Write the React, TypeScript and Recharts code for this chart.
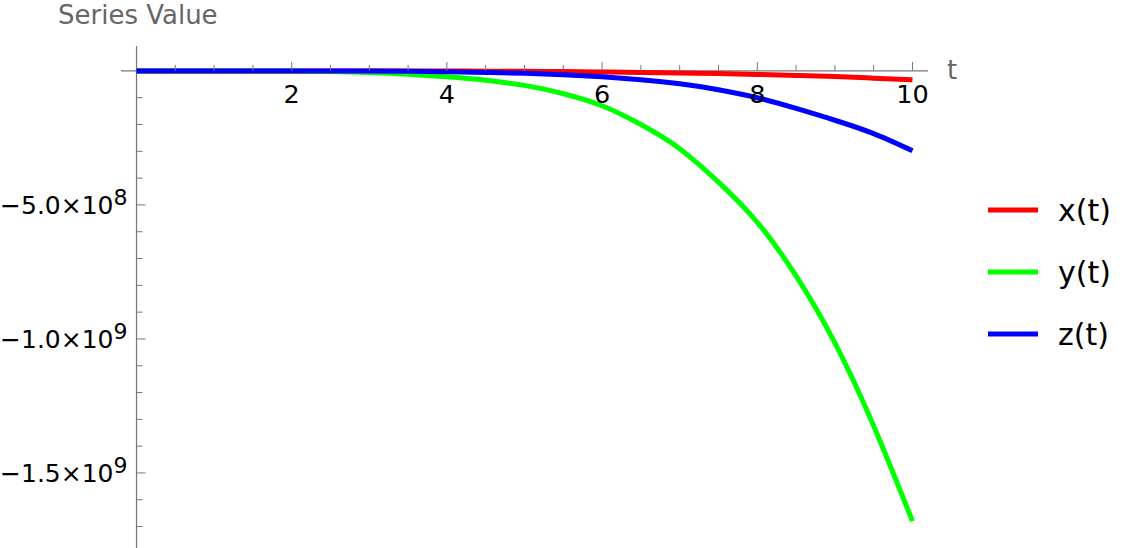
import React from "react";
import { LineChart, Line, XAxis, YAxis, ReferenceLine, Legend, Label } from "recharts";

// time samples and the three solution curves
const T = [0, 0.5, 1, 1.5, 2, 2.5, 3, 3.5, 4, 4.5, 5, 5.5, 6, 6.5, 7, 7.5, 8, 8.5, 9, 9.5, 10];
const X_T = [
  0, 0, 0, 0, 0, 0, 0, -1e5, -3e5, -8e5, -1.5e6, -2.5e6, -3.8e6, -5.5e6, -7.5e6, -1e7,
  -1.3e7, -1.7e7, -2.1e7, -2.7e7, -3.3e7,
];
const Y_T = [
  0, 0, 0, -1e5, -7e5, -2.2e6, -5.5e6, -1.2e7, -2.2e7, -3.5e7, -5.4e7, -8.5e7, -1.3e8,
  -2.0e8, -2.9e8, -4.15e8, -5.65e8, -7.65e8, -1.015e9, -1.325e9, -1.68e9,
];
const Z_T = [
  0, 0, 0, 0, 0, 0, -4e5, -1.2e6, -2.8e6, -5.5e6, -9e6, -1.4e7, -2.2e7, -3.3e7, -4.8e7,
  -7.0e7, -1.0e8, -1.4e8, -1.84e8, -2.34e8, -2.98e8,
];

const T_TICKS = [0.5, 1, 1.5, 2, 2.5, 3, 3.5, 4, 4.5, 5, 5.5, 6, 6.5, 7, 7.5, 8, 8.5, 9, 9.5, 10];
const T_LABELED = [2, 4, 6, 8, 10];
const V_TICKS = [
  -1e8, -2e8, -3e8, -4e8, -5e8, -6e8, -7e8, -8e8, -9e8, -1e9, -1.1e9, -1.2e9, -1.3e9,
  -1.4e9, -1.5e9, -1.6e9, -1.7e9,
];
const V_LABELED = [-5e8, -1e9, -1.5e9];

const data = T.map((t, i) => ({ t, x: X_T[i], y: Y_T[i], z: Z_T[i] }));

const W = 1128;
const H = 548;
const LEGEND_W = 140;
// right margin leaves room for the legend box, which the chart subtracts itself
const MARGIN = { top: 45, right: 200 - LEGEND_W, bottom: 0, left: 120 };
const PLOT = { left: 121, top: 46, right: 928, bottom: 548 };
const T_DOMAIN: [number, number] = [-0.2, 10.2];
const V_DOMAIN: [number, number] = [-1.78e9, 0.93e8];
const FONT = "'DejaVu Sans', sans-serif";
const AXIS = "#777777";
const LABEL_GRAY = "#666666";

const plotW = PLOT.right - PLOT.left;
const plotH = PLOT.bottom - PLOT.top;
// where the axes cross (t = 0, value = 0)
const zeroX = PLOT.left + (plotW * (0 - T_DOMAIN[0])) / (T_DOMAIN[1] - T_DOMAIN[0]);
const zeroY = PLOT.top + (plotH * (V_DOMAIN[1] - 0)) / (V_DOMAIN[1] - V_DOMAIN[0]);

function TimeTick(props: any) {
  const { x, payload } = props;
  const v = payload.value;
  const major = T_LABELED.includes(v);
  return (
    <g>
      <line x1={x} x2={x} y1={zeroY} y2={zeroY - (major ? 9 : 6)} stroke={AXIS} strokeWidth={1} />
      {major && (
        <text x={x} y={zeroY + 32} textAnchor="middle" fontSize={25.5} fontFamily={FONT} fill="#000">
          {v}
        </text>
      )}
    </g>
  );
}

function ValueTick(props: any) {
  const { y, payload } = props;
  const v = payload.value;
  const major = V_LABELED.includes(v);
  const exp = Math.floor(Math.log10(Math.abs(v)));
  const mant = (Math.abs(v) / Math.pow(10, exp)).toFixed(1);
  return (
    <g>
      <line x1={zeroX} x2={zeroX + (major ? 9 : 6)} y1={y} y2={y} stroke={AXIS} strokeWidth={1} />
      {major && (
        <text x={zeroX - 9} y={y + 9.5} textAnchor="end" fontSize={25} fontFamily={FONT} fill="#000">
          <tspan>{`\u2212${mant}\u00d710`}</tspan>
          <tspan dy={-9.5} fontSize={22}>
            {exp}
          </tspan>
        </text>
      )}
    </g>
  );
}

function LegendBox(props: any) {
  const { payload } = props;
  return (
    <div style={{ display: "flex", flexDirection: "column" }}>
      {(payload || []).map((p: any) => (
        <div key={p.value} style={{ height: 62, display: "flex", alignItems: "center" }}>
          <svg width={50} height={6} style={{ display: "block" }}>
            <line x1={0} x2={50} y1={3} y2={3} stroke={p.color} strokeWidth={5} />
          </svg>
          <span style={{ marginLeft: 20, fontSize: 30, fontFamily: FONT, color: "#000" }}>{p.value}</span>
        </div>
      ))}
    </div>
  );
}

export default function App() {
  return (
    <div style={{ position: "absolute", left: 0, top: 0, width: W, height: H, background: "#fff" }}>
      <LineChart width={W} height={H} data={data} margin={MARGIN}>
        <XAxis
          dataKey="t"
          type="number"
          orientation="top"
          height={1}
          domain={T_DOMAIN}
          ticks={T_TICKS}
          interval={0}
          allowDataOverflow
          axisLine={false}
          tickLine={false}
          tick={TimeTick}
        >
          <Label
            content={() => (
              <text x={947} y={zeroY + 8} fontSize={26} fontFamily={FONT} fill={LABEL_GRAY}>
                t
              </text>
            )}
          />
        </XAxis>
        <YAxis
          type="number"
          width={1}
          domain={V_DOMAIN}
          ticks={V_TICKS}
          interval={0}
          allowDataOverflow
          axisLine={false}
          tickLine={false}
          tick={ValueTick}
        >
          <Label
            content={() => (
              <text x={58} y={24} fontSize={26} fontFamily={FONT} fill={LABEL_GRAY}>
                Series Value
              </text>
            )}
          />
        </YAxis>
        <ReferenceLine y={0} stroke={AXIS} strokeWidth={1.2} />
        <ReferenceLine x={0} stroke={AXIS} strokeWidth={1.2} />
        <Legend
          layout="horizontal"
          verticalAlign="middle"
          align="right"
          content={LegendBox}
          wrapperStyle={{ left: 988, top: 179, width: LEGEND_W }}
        />
        <Line type="natural" dataKey="x" name="x(t)" stroke="#ff0000" strokeWidth={5} dot={false} isAnimationActive={false} />
        <Line type="natural" dataKey="y" name="y(t)" stroke="#00ff00" strokeWidth={5} dot={false} isAnimationActive={false} />
        <Line type="natural" dataKey="z" name="z(t)" stroke="#0000ff" strokeWidth={5} dot={false} isAnimationActive={false} />
      </LineChart>
    </div>
  );
}
